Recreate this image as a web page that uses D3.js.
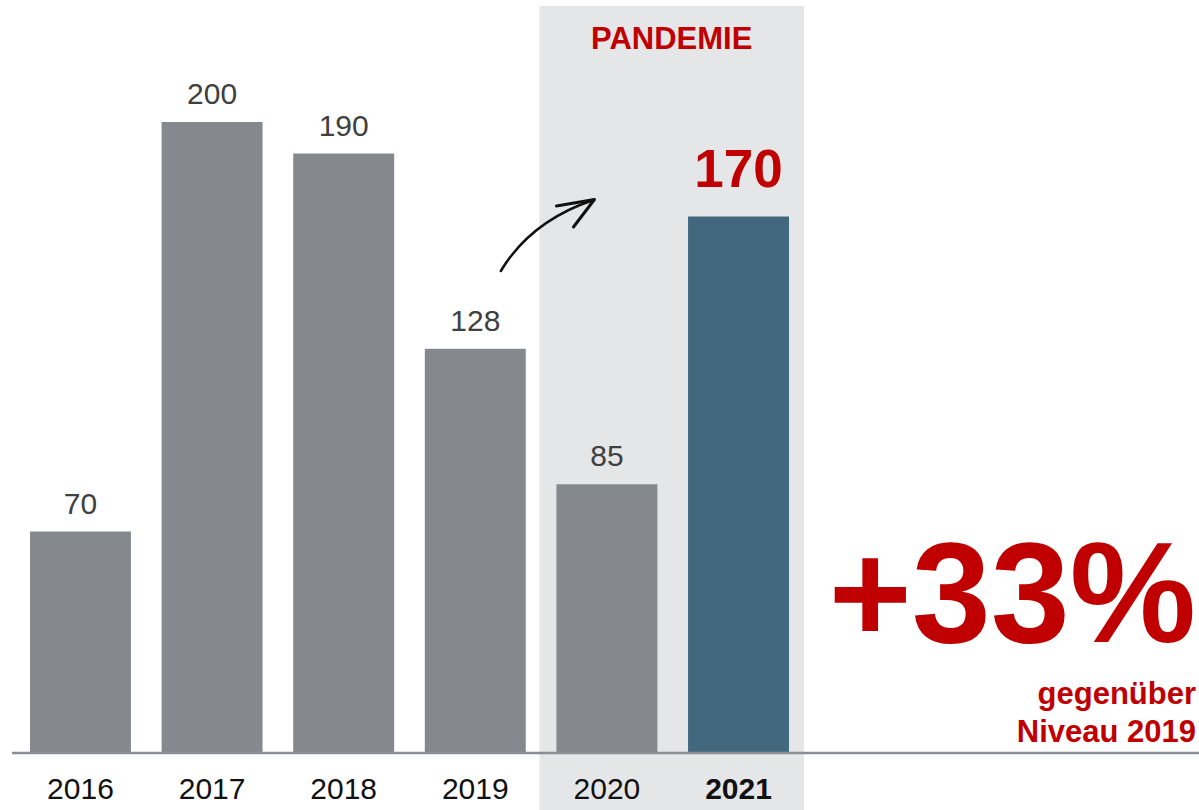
<!DOCTYPE html>
<html>
<head>
<meta charset="utf-8">
<script src="https://cdn.jsdelivr.net/npm/d3@7"></script>
<style>
  body { margin: 0; background: #fff; }
  svg { display: block; font-family: Arial, "Liberation Sans", sans-serif; }
</style>
</head>
<body>
<div id="vis"></div>
<script>
// chart data
var years = ['2016', '2017', '2018', '2019', '2020', '2021'];
var values = [70, 200, 190, 128, 85, 170];
var pandemicYears = ['2020', '2021'];
var highlightYear = '2021';
var bandTitle = 'PANDEMIE';
var changeLabel = '+33%';
var changeNote = ['gegenüber', 'Niveau 2019'];

var width = 1199, height = 810;
var baseline = 752;

var svg = d3.select('#vis')
	.append('svg')
	.attr('width', width)
	.attr('height', height);

var x = d3.scaleBand()
	.domain(years)
	.range([30, 789])
	.paddingInner(0.233)
	.paddingOuter(0);

var y = d3.scaleLinear()
	.domain([0, 200])
	.range([baseline, 122]);

var data = years.map(function(d, i) {
	return {year: d, value: values[i]};
});

// grey pandemic band
var bandLeft = x(pandemicYears[0]) - 17;
var bandRight = x(pandemicYears[pandemicYears.length - 1]) + x.bandwidth() + 15;
svg.append('rect')
	.attr('x', bandLeft)
	.attr('y', 6)
	.attr('width', bandRight - bandLeft)
	.attr('height', height - 6)
	.style('fill', '#e5e6e8');

svg.append('text')
	.attr('x', (bandLeft + bandRight) / 2)
	.attr('y', 49)
	.attr('text-anchor', 'middle')
	.style('font-size', '31px')
	.style('font-weight', 'bold')
	.style('fill', '#c00000')
	.text(bandTitle);

// bars
svg.append('g')
	.selectAll('rect')
	.data(data)
	.enter()
	.append('rect')
	.attr('x', function(d) { return x(d.year); })
	.attr('y', function(d) { return y(d.value); })
	.attr('width', x.bandwidth())
	.attr('height', function(d) { return baseline - y(d.value); })
	.style('fill', function(d) {
		return d.year === highlightYear ? '#426880' : '#85898d';
	});

// value labels
svg.append('g')
	.selectAll('text')
	.data(data)
	.enter()
	.append('text')
	.attr('x', function(d) { return x(d.year) + x.bandwidth() / 2; })
	.attr('y', function(d) {
		return d.year === highlightYear ? y(d.value) - 30 : y(d.value) - 18;
	})
	.attr('text-anchor', 'middle')
	.style('font-size', function(d) { return d.year === highlightYear ? '53px' : '30px'; })
	.style('font-weight', function(d) { return d.year === highlightYear ? 'bold' : 'normal'; })
	.style('fill', function(d) { return d.year === highlightYear ? '#c00000' : '#404040'; })
	.text(function(d) { return d.value; });

// baseline
svg.append('line')
	.attr('x1', 12)
	.attr('x2', width)
	.attr('y1', baseline + 1)
	.attr('y2', baseline + 1)
	.style('stroke', '#8a8d91')
	.style('stroke-width', 2.5);

// year labels
var xAxis = d3.axisBottom(x).tickSize(0).tickPadding(0);
var axisG = svg.append('g')
	.attr('transform', 'translate(0,' + baseline + ')')
	.call(xAxis);
axisG.select('.domain').remove();
axisG.selectAll('text')
	.attr('dy', null)
	.attr('y', 47)
	.style('font-family', 'Arial, "Liberation Sans", sans-serif')
	.style('font-size', '30px')
	.style('fill', '#111')
	.style('font-weight', function(d) { return d === highlightYear ? 'bold' : 'normal'; });

// hand drawn arrow from 2019 toward 2021
var ax0 = x('2019') + 76, ay0 = 271;
var ax1 = x('2020') + 37, ay1 = 200;
svg.append('path')
	.attr('d', 'M' + ax0 + ',' + ay0 + ' Q' + (ax0 + 30) + ',' + (ay0 - 50) + ' ' + ax1 + ',' + ay1)
	.style('fill', 'none')
	.style('stroke', '#111')
	.style('stroke-width', 2.5)
	.style('stroke-linecap', 'round');
svg.append('path')
	.attr('d', 'M' + (ax1 - 37) + ',' + (ay1 + 6) + ' L' + (ax1 + 1) + ',' + (ay1 - 0.5) + ' L' + (ax1 - 20) + ',' + (ay1 + 27))
	.style('fill', 'none')
	.style('stroke', '#111')
	.style('stroke-width', 3)
	.style('stroke-linecap', 'round')
	.style('stroke-linejoin', 'round');

// growth annotation
svg.append('text')
	.attr('x', 1196)
	.attr('y', 642)
	.attr('text-anchor', 'end')
	.style('font-size', '142px')
	.style('font-weight', 'bold')
	.style('fill', '#c00000')
	.text(changeLabel);

svg.append('g')
	.selectAll('text')
	.data(changeNote)
	.enter()
	.append('text')
	.attr('x', 1196)
	.attr('y', function(d, i) { return 704 + i * 38; })
	.attr('text-anchor', 'end')
	.style('font-size', '31px')
	.style('font-weight', 'bold')
	.style('fill', '#c00000')
	.text(function(d) { return d; });
</script>
</body>
</html>
